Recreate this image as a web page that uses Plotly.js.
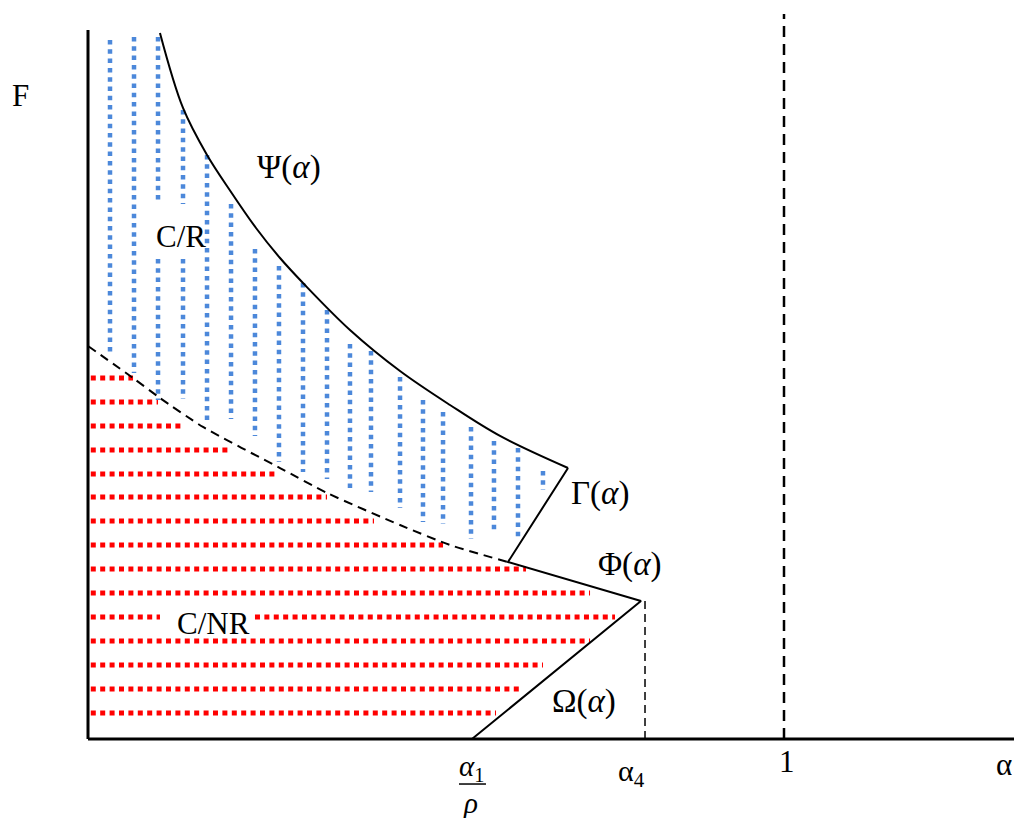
<!DOCTYPE html>
<html>
<head>
<meta charset="utf-8">
<script src="https://cdn.plot.ly/plotly-3.0.1.min.js"></script>
<style>html,body{margin:0;padding:0;background:#fff;}#chart{width:1014px;height:818px;}</style>
</head>
<body>
<div id="chart"></div>
<script>
// Ψ(α) upper boundary (α normalised so the dashed line is α = 1)
const psiAlpha = [0.1034, 0.1365, 0.1710, 0.2055, 0.2414, 0.2759, 0.3089, 0.3764, 0.4483, 0.5201, 0.5920, 0.6897];
const psiF     = [0.9958, 0.8900, 0.8237, 0.7715, 0.7207, 0.6784, 0.6432, 0.5769, 0.5190, 0.4711, 0.4274, 0.3822];
// Γ(α), Φ(α), Ω(α) segments
const kinkAlpha = [0.6897, 0.6034, 0.7945, 0.5517];
const kinkF     = [0.3822, 0.2496, 0.1946, 0.0];
// dashed boundary between C/R and C/NR
const boundaryAlpha = [0.0, 0.0647, 0.1034, 0.1652, 0.2759, 0.3434, 0.4483, 0.5201, 0.6034];
const boundaryF     = [0.5543, 0.5092, 0.4810, 0.4401, 0.3822, 0.3470, 0.3018, 0.2736, 0.2496];
// red dotted rows (C/NR region)
const redRowF     = [0.5092, 0.4753, 0.4415, 0.4076, 0.3738, 0.3413, 0.3075, 0.2736, 0.2398, 0.2059, 0.1721, 0.1721, 0.1382, 0.1044, 0.0705, 0.0367];
const redRowStart = [0.004, 0.004, 0.004, 0.004, 0.004, 0.004, 0.004, 0.004, 0.004, 0.004, 0.004, 0.2399, 0.004, 0.004, 0.004, 0.004];
const redRowEnd   = [0.0647, 0.1006, 0.1351, 0.2040, 0.2730, 0.3434, 0.4109, 0.5101, 0.6293, 0.7213, 0.1034, 0.7572, 0.7213, 0.6537, 0.6193, 0.5862];
// blue dotted columns (C/R region)
const blueColAlpha  = [0.0316, 0.0661, 0.1006, 0.1006, 0.1365, 0.1365, 0.1710, 0.2055, 0.2399, 0.2744, 0.3089, 0.3434, 0.3764, 0.4066, 0.4483, 0.4813, 0.5101, 0.5503, 0.5833, 0.6178, 0.6537];
const blueColTop    = [0.9859, 0.9901, 0.9901, 0.6770, 0.8872, 0.6770, 0.8237, 0.7546, 0.6911, 0.6671, 0.6432, 0.6051, 0.5571, 0.5472, 0.5106, 0.4781, 0.4612, 0.4401, 0.4203, 0.4104, 0.3780];
const blueColBottom = [0.5458, 0.5162, 0.7602, 0.4781, 0.7546, 0.4795, 0.4471, 0.4513, 0.4274, 0.3907, 0.3766, 0.3667, 0.3484, 0.3484, 0.3258, 0.3061, 0.3032, 0.2821, 0.2891, 0.2807, 0.3512];
// reference positions
const alpha1OverRho = 0.5517;
const alpha4 = 0.8003;
const alphaOne = 1.0;
const phiTopF = 0.1946;

const font = 'Liberation Serif, Times New Roman, serif';

const rx = [], ry = [];
redRowF.forEach((f, i) => { rx.push(redRowStart[i], redRowEnd[i], null); ry.push(f, f, null); });
const bx = [], by = [];
blueColAlpha.forEach((a, i) => { bx.push(a, a, null); by.push(blueColTop[i], blueColBottom[i], null); });

const traces = [
  {x: rx, y: ry, mode: 'lines', line: {color: '#FF0000', width: 5, dash: '5px,4.4px'}, connectgaps: false, hoverinfo: 'skip'},
  {x: bx, y: by, mode: 'lines', line: {color: '#4C88DA', width: 4.5, dash: '4.5px,4.8px'}, connectgaps: false, hoverinfo: 'skip'},
  {x: boundaryAlpha, y: boundaryF, mode: 'lines', line: {color: '#000', width: 2, dash: '9px,6px', shape: 'spline', smoothing: 0.6}, hoverinfo: 'skip'},
  {x: psiAlpha, y: psiF, mode: 'lines', line: {color: '#000', width: 2, shape: 'spline', smoothing: 1}, hoverinfo: 'skip'},
  {x: kinkAlpha, y: kinkF, mode: 'lines', line: {color: '#000', width: 2}, hoverinfo: 'skip'}
];

function ann(text, x, y, size) {
  return {text: text, x: x, y: y, xref: 'x', yref: 'y', showarrow: false,
    xanchor: 'center', yanchor: 'middle', font: {family: font, size: size || 31, color: '#000'}};
}

const layout = {
  width: 1014, height: 818,
  margin: {l: 0, r: 0, t: 0, b: 0},
  paper_bgcolor: '#fff', plot_bgcolor: '#fff',
  showlegend: false,
  xaxis: {range: [-0.12644, 1.33046], visible: false, fixedrange: true},
  yaxis: {range: [-0.11142, 1.04231], visible: false, fixedrange: true},
  shapes: [
    {type: 'line', x0: 0, x1: 1.33046, y0: 0, y1: 0, line: {color: '#000', width: 3}},
    {type: 'line', x0: 0, x1: 0, y0: 0, y1: 1.0, line: {color: '#000', width: 3}},
    {type: 'line', x0: alphaOne, x1: alphaOne, y0: 0, y1: 1.0226, line: {color: '#000', width: 2.5, dash: '11px,7px'}},
    {type: 'line', x0: alpha4, x1: alpha4, y0: 0, y1: phiTopF, line: {color: '#000', width: 1.5, dash: '8px,5px'}},
    {type: 'line', x0: 0.5330, x1: 0.5718, y0: -0.0635, y1: -0.0635, line: {color: '#000', width: 1.5}}
  ],
  annotations: [
    ann('F', -0.0977, 0.9083),
    ann('Ψ(<i>α</i>)', 0.2888, 0.8054, 33),
    ann('C/R', 0.1336, 0.7094),
    ann('Γ(<i>α</i>)', 0.7356, 0.3456, 33),
    ann('Φ(<i>α</i>)', 0.7787, 0.2468, 33),
    ann('C/NR', 0.1810, 0.1636),
    ann('Ω(<i>α</i>)', 0.7126, 0.0522, 33),
    ann('<i>α</i><sub>1</sub>', alpha1OverRho, -0.0409, 29),
    ann('<i>ρ</i>', 0.5489, -0.0903, 29),
    ann('α<sub>4</sub>', 0.7816, -0.0480, 30),
    ann('1', 1.0043, -0.0324),
    ann('α', 1.3161, -0.0353)
  ]
};

Plotly.newPlot('chart', traces, layout, {staticPlot: true, displayModeBar: false});
</script>
</body>
</html>
